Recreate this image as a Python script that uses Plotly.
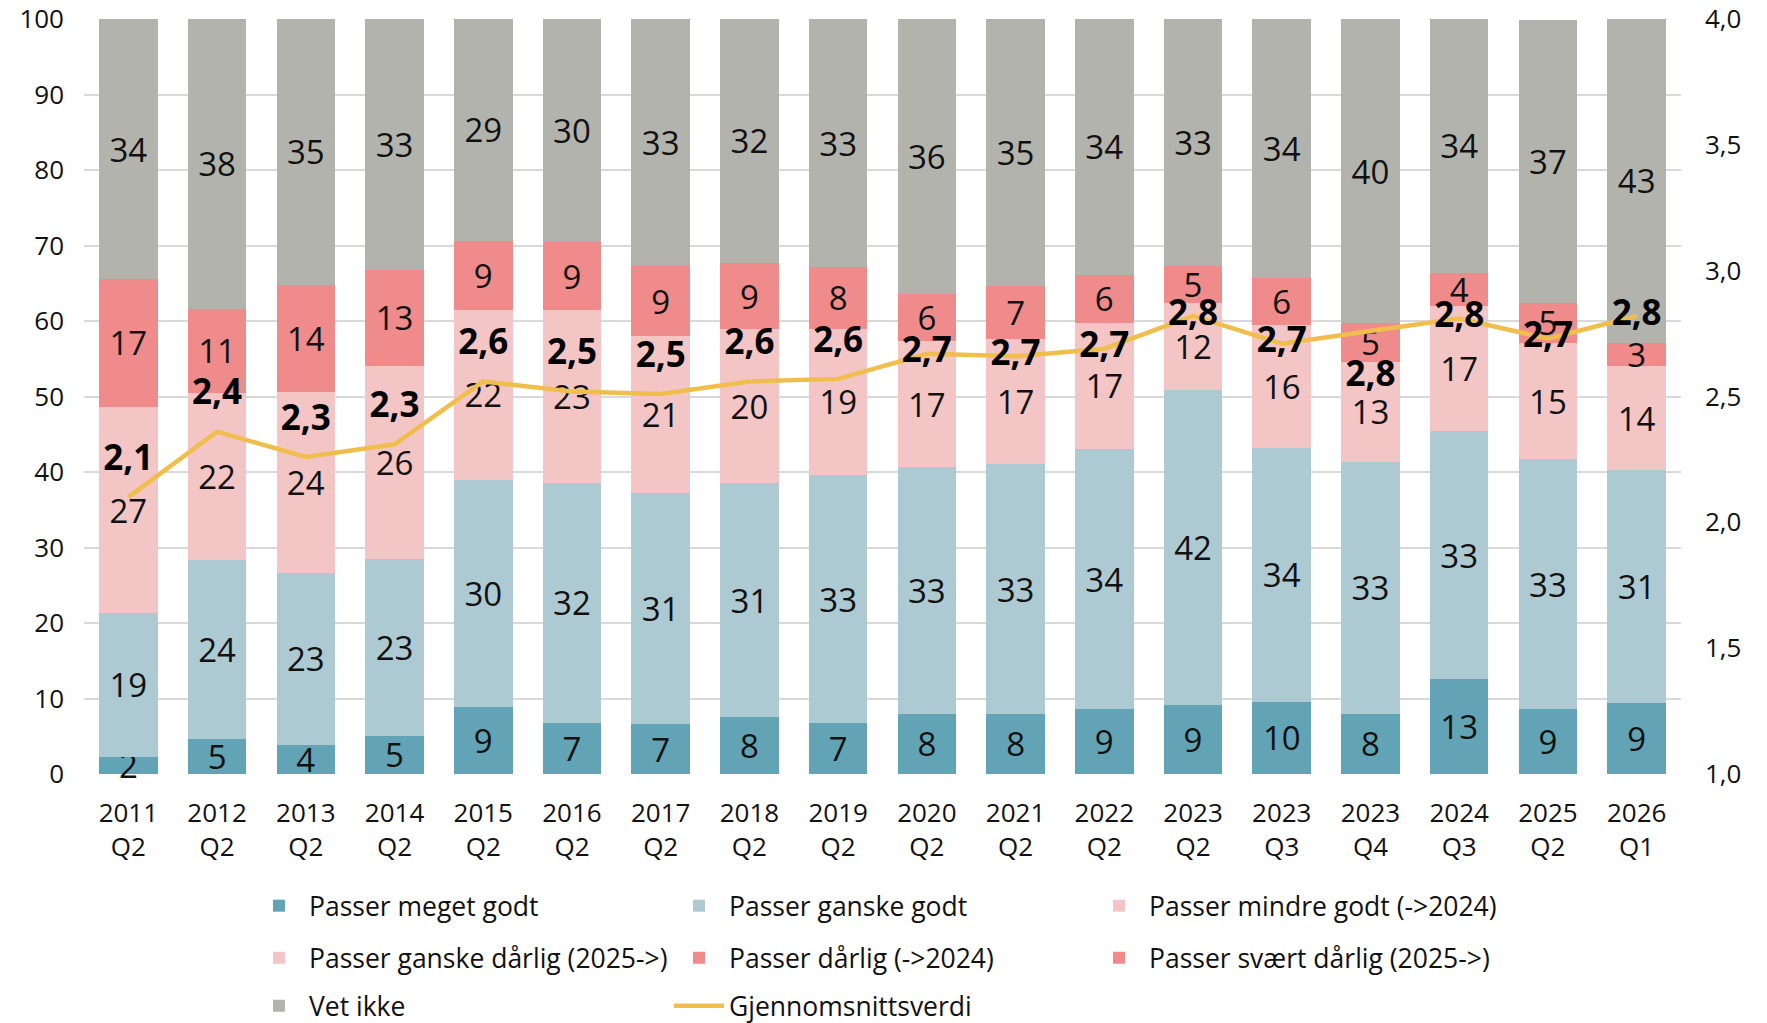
import plotly.graph_objects as go

categories = ["2011 Q2", "2012 Q2", "2013 Q2", "2014 Q2", "2015 Q2", "2016 Q2",
              "2017 Q2", "2018 Q2", "2019 Q2", "2020 Q2", "2021 Q2", "2022 Q2",
              "2023 Q2", "2023 Q3", "2023 Q4", "2024 Q3", "2025 Q2", "2026 Q1"]
tick_labels = [c.replace(" ", "<br>") for c in categories]

meget_godt = [2.3, 4.6, 3.9, 5.1, 8.9, 6.8, 6.6, 7.55, 6.7, 8.0, 8.0, 8.6,
              9.1, 9.6, 8.0, 12.6, 8.6, 9.4]
ganske_godt = [19.0, 23.7, 22.7, 23.4, 30.1, 31.7, 30.6, 30.95, 32.9, 32.6, 33.0, 34.4,
               41.7, 33.6, 33.3, 32.8, 33.1, 30.8]
mindre_godt = [27.3, 22.2, 24.0, 25.6, 22.4, 22.9, 20.8, 20.4, 19.4, 16.8, 16.6, 16.8,
               11.65, 16.3, 13.3, 16.6, None, None]
ganske_darlig = [None] * 16 + [15.4, 13.9]
darlig = [17.0, 11.1, 14.2, 12.6, 9.2, 9.0, 9.25, 8.8, 8.1, 6.2, 7.1, 6.3,
          4.85, 6.15, 5.1, 4.4, None, None]
svaert_darlig = [None] * 16 + [5.35, 3.05]
vet_ikke = [34.35, 38.4, 35.2, 33.3, 29.4, 29.6, 32.75, 32.3, 32.9, 36.4, 35.3, 33.9,
            32.7, 34.35, 40.3, 33.6, 37.4, 42.85]
gjennomsnitt = [2.10, 2.36, 2.26, 2.31, 2.56, 2.52, 2.51, 2.56, 2.57, 2.67, 2.66, 2.69,
                2.82, 2.71, 2.76, 2.81, 2.73, 2.82]

series_names = ["Passer meget godt", "Passer ganske godt", "Passer mindre godt (->2024)",
                "Passer ganske dårlig (2025->)", "Passer dårlig (->2024)",
                "Passer svært dårlig (2025->)", "Vet ikke"]
series_values = [meget_godt, ganske_godt, mindre_godt, ganske_darlig, darlig,
                 svaert_darlig, vet_ikke]
line_name = "Gjennomsnittsverdi"

colors = ["#62A3B5", "#ADC9D2", "#F3C5C5", "#F3C5C5", "#EF8B8A", "#EF8B8A", "#B3B3AE"]
legend_ids = ["legend", "legend", "legend", "legend2", "legend2", "legend2", "legend3"]

# label placement for the average labels (style only)
label_pos = ["top center"] * 9 + ["middle center"] * 5 + ["bottom center"] + ["middle center"] * 3
label_marker = [28] * 14 + [44] + [28] * 3

FONT = "Open Sans"
TXT = "#111111"

fig = go.Figure()
for name, vals, col, lg in zip(series_names, series_values, colors, legend_ids):
    fig.add_trace(go.Bar(
        x=categories, y=vals, name=name, marker=dict(color=col, line=dict(width=0)),
        texttemplate="%{y:.0f}", textposition="inside", insidetextanchor="middle",
        textangle=0, textfont=dict(family=FONT, size=33, color=TXT),
        cliponaxis=False, legend=lg,
    ))

fig.add_trace(go.Scatter(
    x=categories, y=gjennomsnitt, name=line_name, mode="lines", yaxis="y2",
    line=dict(color="#F0BE4C", width=4.5), legend="legend3",
))
fig.add_trace(go.Scatter(
    x=categories, y=gjennomsnitt, mode="markers+text", yaxis="y2", showlegend=False,
    marker=dict(size=label_marker, color="rgba(0,0,0,0)", opacity=0,
                line=dict(width=0, color="rgba(0,0,0,0)")),
    texttemplate="%{y:.1f}", textposition=label_pos, cliponaxis=False,
    textfont=dict(family=FONT, size=35, color="#000000", weight="bold"),
    hoverinfo="skip",
))

legend_common = dict(orientation="h", entrywidth=355, entrywidthmode="pixels", itemwidth=50,
                     font=dict(family=FONT, size=26.5, color=TXT),
                     xref="container", yref="container", x=0.1409, xanchor="left",
                     yanchor="middle", bgcolor="rgba(0,0,0,0)", traceorder="normal")

fig.update_layout(
    width=1767, height=1023,
    margin=dict(l=84, r=86, t=19, b=249, autoexpand=False),
    barmode="stack", bargap=0.34,
    plot_bgcolor="white", paper_bgcolor="white",
    separators=", ",
    font=dict(family=FONT, size=26, color=TXT),
    uniformtext=dict(minsize=33, mode="show"),
    xaxis=dict(type="category", tickvals=categories, ticktext=tick_labels,
               range=[-0.5, len(categories) - 0.5], automargin=False,
               showgrid=False, showline=False, ticks="", ticklabelstandoff=21,
               tickfont=dict(family=FONT, size=26, color=TXT)),
    yaxis=dict(range=[0, 100], dtick=10, showgrid=True, gridcolor="#D9D9D9", gridwidth=2,
               zeroline=False, showline=False, ticks="", ticklabelstandoff=19,
               ticklabeloverflow="allow", automargin=False,
               tickfont=dict(family=FONT, size=26, color=TXT)),
    yaxis2=dict(range=[1, 4], dtick=0.5, tickformat=".1f", overlaying="y", side="right",
                showgrid=False, zeroline=False, showline=False, ticks="", ticklabelstandoff=23,
                ticklabeloverflow="allow", automargin=False,
                tickfont=dict(family=FONT, size=26, color=TXT)),
    legend=dict(y=0.1144, **legend_common),
    legend2=dict(y=0.0635, **legend_common),
    legend3=dict(y=0.0166, **legend_common),
)

fig.write_html("out.html", config={"displayModeBar": False},
               post_script="document.body.style.margin='0';")
